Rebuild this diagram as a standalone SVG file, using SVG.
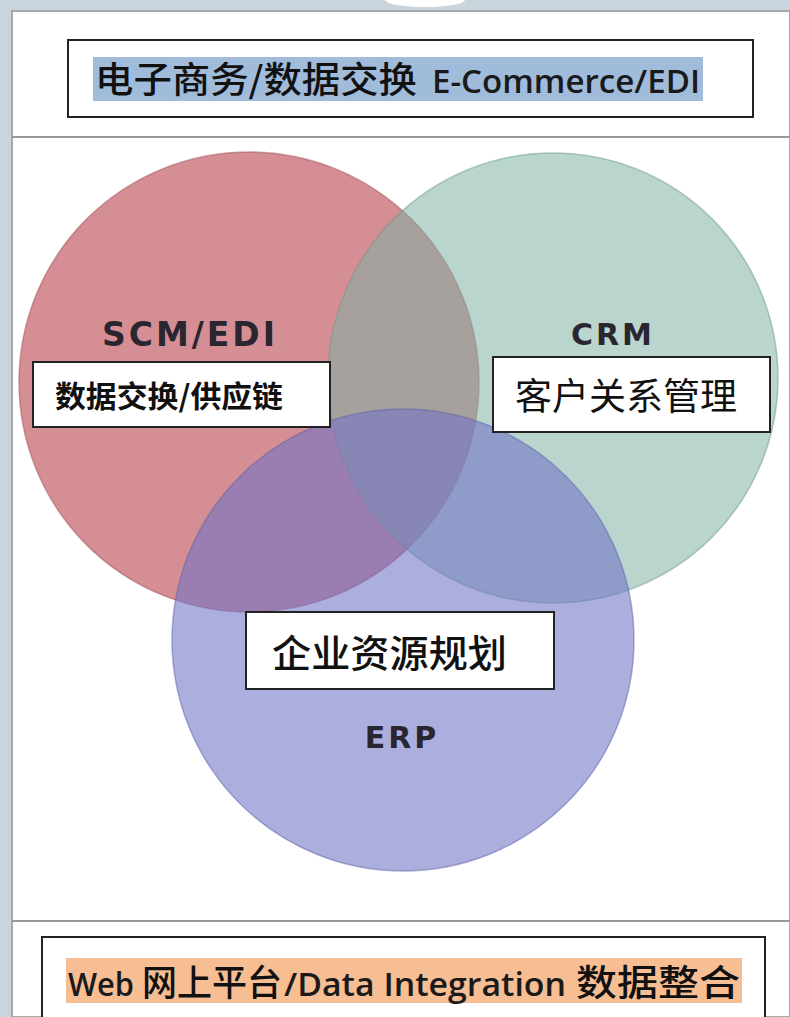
<svg xmlns="http://www.w3.org/2000/svg" width="790" height="1017" viewBox="0 0 790 1017">
<style>
.cjk{font-family:"Noto Sans CJK SC","Noto Sans",sans-serif;fill:#111}
.lat{font-family:"Open Sans","Liberation Sans",sans-serif;font-weight:600;fill:#1a1a1a}
.lbl{font-family:"DejaVu Sans","Verdana",sans-serif;font-weight:700;fill:#2a2630;letter-spacing:3px}
.box{fill:#fff;stroke:#222;stroke-width:2}
.sep{stroke:#9a9a9a;stroke-width:2}
</style>
<rect width="790" height="1017" fill="#c9d4dc"/>
<rect x="12" y="11" width="778" height="1006" fill="#fff" stroke="#a8a8a8" stroke-width="2"/>
<ellipse cx="425" cy="0" rx="40" ry="7" fill="#fff"/>
<line class="sep" x1="12" y1="137" x2="790" y2="137"/>
<line class="sep" x1="12" y1="921" x2="790" y2="921"/>
<g id="header">
<rect class="box" x="68" y="40" width="685" height="77"/>
<rect x="93" y="57" width="610" height="44" fill="#a1bcdb"/>
<text class="cjk" x="95" y="93" font-size="36" font-weight="500" textLength="322" lengthAdjust="spacingAndGlyphs">电子商务/数据交换</text>
<text class="lat" x="432" y="93" font-size="33" textLength="268" lengthAdjust="spacingAndGlyphs">E-Commerce/EDI</text>
</g>
<g id="circles">
<circle id="scm" cx="249" cy="382" r="230" fill="#b9434b" fill-opacity="0.6" stroke="#a05058" stroke-opacity="0.5" stroke-width="1.5"/>
<circle id="crm" cx="553" cy="378" r="225" fill="#82b1a6" fill-opacity="0.55" stroke="#6e9a90" stroke-opacity="0.5" stroke-width="1.5"/>
<circle id="erp" cx="403" cy="640" r="231" fill="#7074c6" fill-opacity="0.58" stroke="#6064a8" stroke-opacity="0.5" stroke-width="1.5"/>
</g>
<g id="scm-label">
<text class="lbl" x="190" y="346" font-size="33" text-anchor="middle">SCM/EDI</text>
<rect class="box" x="33" y="362" width="297" height="65"/>
<text class="cjk" x="55" y="407" font-size="30" font-weight="700" textLength="228" lengthAdjust="spacingAndGlyphs">数据交换/供应链</text>
</g>
<g id="crm-label">
<text class="lbl" x="613" y="345" font-size="30" text-anchor="middle">CRM</text>
<rect class="box" x="493" y="357" width="277" height="75"/>
<text class="cjk" x="515" y="410" font-size="37" textLength="222" lengthAdjust="spacingAndGlyphs">客户关系管理</text>
</g>
<g id="erp-label">
<rect class="box" x="246" y="612" width="308" height="77"/>
<text class="cjk" x="272" y="667" font-size="38" font-weight="500" textLength="235" lengthAdjust="spacingAndGlyphs">企业资源规划</text>
<text class="lbl" x="402" y="748" font-size="30" text-anchor="middle">ERP</text>
</g>
<g id="footer">
<rect class="box" x="42" y="937" width="723" height="90"/>
<rect x="66" y="958" width="676" height="45" fill="#f7bd93"/>
<text class="lat" x="68" y="996" font-size="33" textLength="66" lengthAdjust="spacingAndGlyphs">Web</text>
<text class="cjk" x="142" y="996" font-size="36" font-weight="500" textLength="140" lengthAdjust="spacingAndGlyphs">网上平台</text>
<text class="lat" x="284" y="996" font-size="33" textLength="282" lengthAdjust="spacingAndGlyphs">/Data Integration</text>
<text class="cjk" x="576" y="996" font-size="36" font-weight="500" textLength="164" lengthAdjust="spacingAndGlyphs">数据整合</text>
</g>
<g id="connectors"/>
</svg>
